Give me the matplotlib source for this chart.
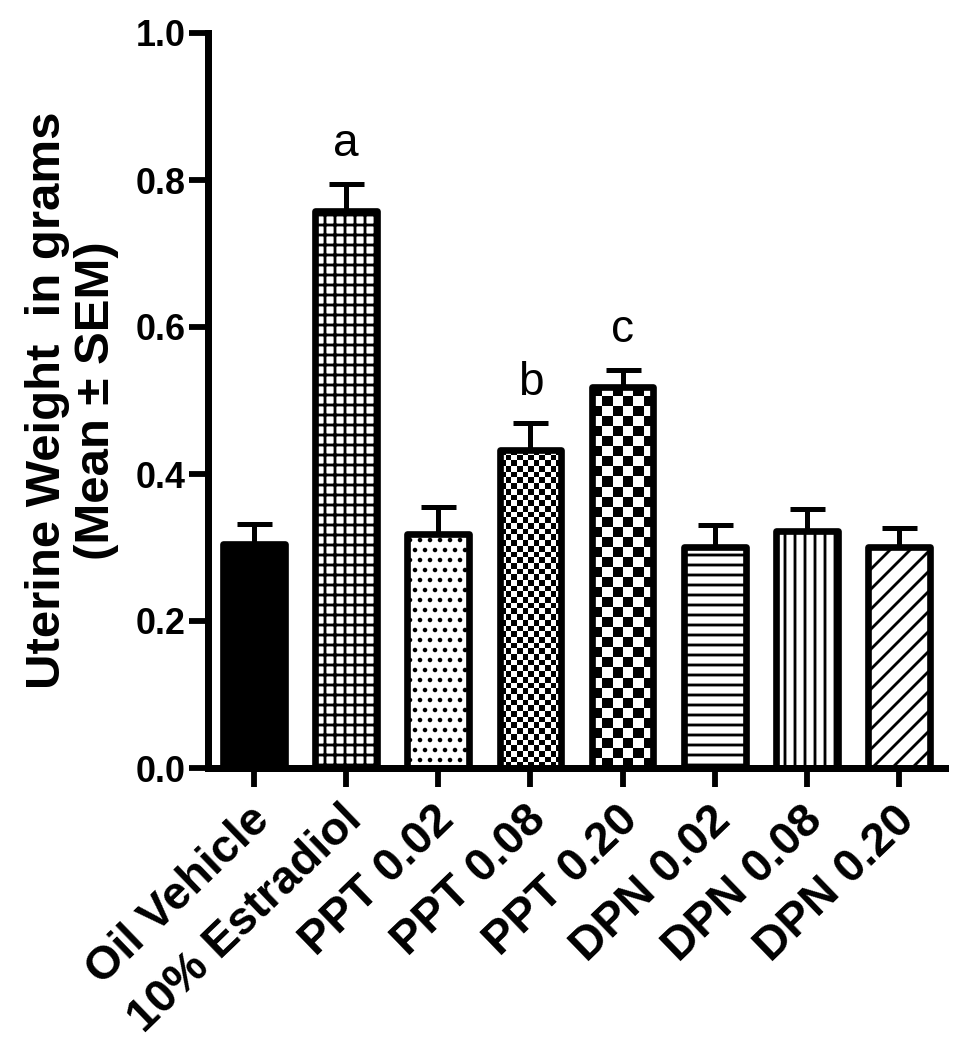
import matplotlib
matplotlib.use("Agg")
import matplotlib.pyplot as plt
import matplotlib.transforms as mtransforms
import numpy as np

# values (grams, mean and upper SEM)
groups = ["Oil Vehicle", "10% Estradiol", "PPT 0.02", "PPT 0.08", "PPT 0.20",
          "DPN 0.02", "DPN 0.08", "DPN 0.20"]
means = [0.305, 0.758, 0.318, 0.433, 0.519, 0.301, 0.322, 0.301]
sems = [0.027, 0.037, 0.037, 0.036, 0.023, 0.029, 0.031, 0.026]
letters = ["", "a", "", "b", "c", "", "", ""]
yticks = [0.0, 0.2, 0.4, 0.6, 0.8, 1.0]

# fill style per bar (checker cells drawn as texture, size in px)
faces = ["black", "white", "white", "none", "none", "white", "white", "white"]
hatches = [None, "+", ".", None, None, "-", "|", "/"]
hatch_lw = [0, 3.4, 3.0, 0, 0, 3.4, 3.4, 3.4]
checker_px = {3: 5.7, 4: 10.0}

plt.rcParams["font.family"] = ["Liberation Sans", "DejaVu Sans"]
plt.rcParams["hatch.linewidth"] = 3.4

fig = plt.figure(figsize=(16, 17.5), dpi=60)
ax = fig.add_axes([208 / 960, 1 - 768 / 1050, 737 / 960, 735 / 1050])
x = np.arange(len(groups))

ax.errorbar(x, means, yerr=[np.zeros(len(means)), sems], fmt="none",
            ecolor="black", elinewidth=6, capsize=21, capthick=6, zorder=1)
bars = ax.bar(x, means, width=0.67, color="white", edgecolor="black",
              linewidth=8, zorder=2)
for p, face, h, lw in zip(bars, faces, hatches, hatch_lw):
    p.set_facecolor(face)
    p.set_joinstyle("round")
    if h:
        p.set_hatch(h)
        if hasattr(p, "set_hatch_linewidth"):
            p.set_hatch_linewidth(lw)

ax.set_xlim(-0.5, 7.5)
ax.set_ylim(0, 1.0)

for i, cell in checker_px.items():
    p = bars[i]
    bb = p.get_window_extent()
    nx = max(1, round(bb.width / cell))
    ny = max(1, round(bb.height / cell))
    tex = np.add.outer(np.arange(ny), np.arange(nx)) % 2
    x0 = p.get_x()
    ax.imshow(tex, cmap="gray", vmin=0, vmax=1, origin="upper",
              extent=(x0, x0 + p.get_width(), 0, p.get_height()),
              interpolation="nearest", aspect="auto", zorder=1.5, clip_path=p)
ax.set_xlim(-0.5, 7.5)
ax.set_ylim(0, 1.0)

for xi, m, s, lab in zip(x, means, sems, letters):
    if lab:
        ax.text(xi, m + s + 0.038, lab, ha="center", va="baseline", fontsize=55)

for side in ["top", "right"]:
    ax.spines[side].set_visible(False)
for side in ["left", "bottom"]:
    ax.spines[side].set_linewidth(8.4)
    ax.spines[side].set_capstyle("projecting")

ax.set_yticks(yticks, [f"{v:.1f}" for v in yticks], fontweight="bold", fontsize=43)
ax.set_xticks(x, groups, rotation=44, ha="right", va="center",
              rotation_mode="anchor", fontweight="bold", fontsize=56)
ax.tick_params(direction="out", length=23, width=7)
ax.tick_params(axis="y", pad=4)
ax.tick_params(axis="x", pad=10)
shift = mtransforms.ScaledTranslation(9 / 60, -18 / 60, fig.dpi_scale_trans)
for lbl in ax.get_xticklabels():
    lbl.set_transform(lbl.get_transform() + shift)

ax.set_ylabel("Uterine Weight  in grams\n(Mean \u00b1 SEM)", fontsize=59,
              fontweight="bold", labelpad=20, linespacing=1.1)

fig.savefig("out.png", dpi=60)
